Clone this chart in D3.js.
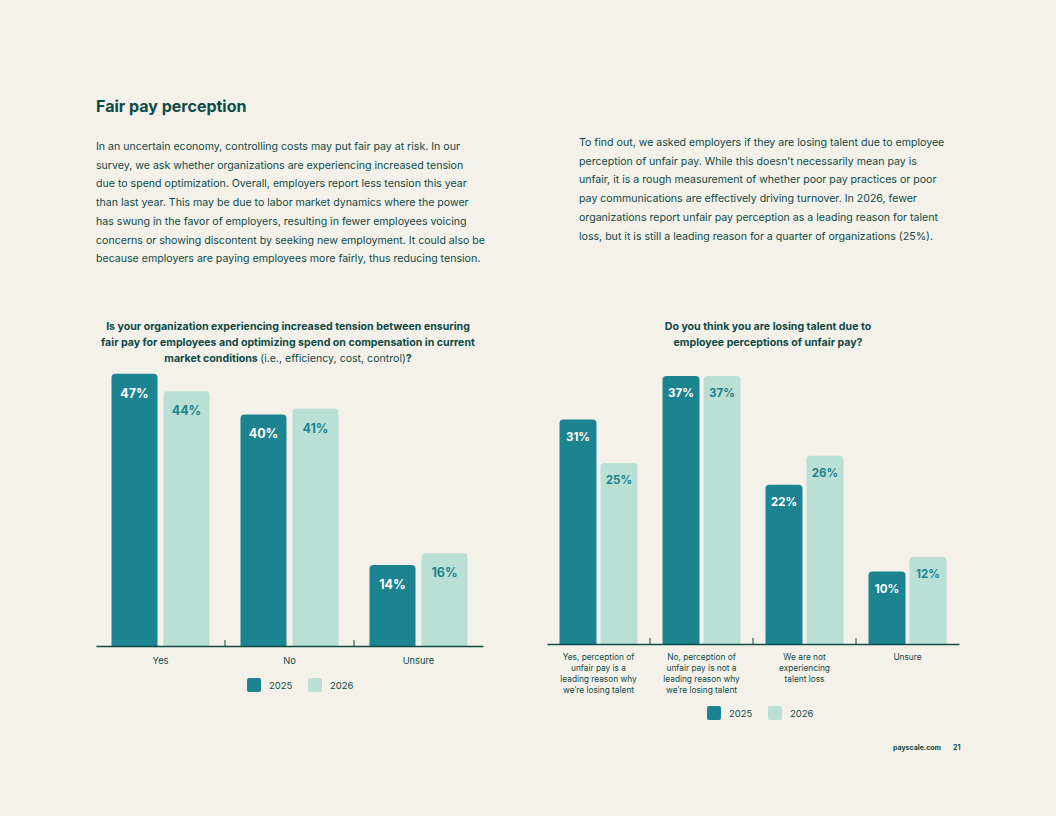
<!DOCTYPE html>
<html>
<head>
<meta charset="utf-8">
<script src="https://cdn.jsdelivr.net/npm/d3@7"></script>
<style>
  html, body { margin: 0; padding: 0; background: #f4f1ea; }
  svg { display: block; font-family: Inter, "Noto Sans", sans-serif; }
</style>
</head>
<body>
<svg id="page" width="1056" height="816"></svg>
<script>
// chart data
const years = ['2025', '2026'];

const tensionCategories = ['Yes', 'No', 'Unsure'];
const tension2025 = [47, 40, 14];
const tension2026 = [44, 41, 16];

const talentCategories = [
  ['Yes, perception of', 'unfair pay is a', 'leading reason why', 'we\u2019re losing talent'],
  ['No, perception of', 'unfair pay is not a', 'leading reason why', 'we\u2019re losing talent'],
  ['We are not', 'experiencing', 'talent loss'],
  ['Unsure']
];
const talent2025 = [31, 37, 22, 10];
const talent2026 = [25, 37, 26, 12];

const leftParagraph = [
  'In an uncertain economy, controlling costs may put fair pay at risk. In our',
  'survey, we ask whether organizations are experiencing increased tension',
  'due to spend optimization. Overall, employers report less tension this year',
  'than last year. This may be due to labor market dynamics where the power',
  'has swung in the favor of employers, resulting in fewer employees voicing',
  'concerns or showing discontent by seeking new employment. It could also be',
  'because employers are paying employees more fairly, thus reducing tension.'
];
const rightParagraph = [
  'To find out, we asked employers if they are losing talent due to employee',
  'perception of unfair pay. While this doesn\u2019t necessarily mean pay is',
  'unfair, it is a rough measurement of whether poor pay practices or poor',
  'pay communications are effectively driving turnover. In 2026, fewer',
  'organizations report unfair pay perception as a leading reason for talent',
  'loss, but it is still a leading reason for a quarter of organizations (25%).'
];

const DARK = '#1c8390';
const LIGHT = '#badfd5';
const INK = '#0f4a45';

const svg = d3.select('#page');

// HEADER
svg.append('text')
  .attr('x', 96).attr('y', 112)
  .attr('font-size', 16).attr('font-weight', 700)
  .attr('fill', INK)
  .text('Fair pay perception');

function paragraph(lines, x, y0, lh) {
  svg.append('g').selectAll('text')
    .data(lines)
    .enter()
    .append('text')
    .attr('x', x)
    .attr('y', (d, i) => y0 + i * lh)
    .attr('font-size', 10.6)
    .attr('fill', INK)
    .text(d => d);
}
paragraph(leftParagraph, 96, 150, 18.7);
paragraph(rightParagraph, 579, 146, 18.7);

// path for a bar with rounded top corners
function topRounded(x, y, w, h, r) {
  r = Math.min(r, h, w / 2);
  return `M${x},${y + h}V${y + r}Q${x},${y} ${x + r},${y}H${x + w - r}Q${x + w},${y} ${x + w},${y + r}V${y + h}Z`;
}

function barChart(opts) {
  const g = svg.append('g');
  const x = d3.scaleBand()
    .domain(d3.range(opts.categories.length))
    .range([opts.x0, opts.x1]);
  const y = d3.scaleLinear()
    .domain([0, 100])
    .range([opts.base, opts.base - opts.pxPerPct * 100]);

  // inner band for the two years inside a group
  const pairW = opts.barW * 2 + opts.gap;
  const xs = d3.scaleBand()
    .domain(years)
    .range([0, pairW])
    .paddingInner(opts.gap / (opts.barW + opts.gap))
    .paddingOuter(0);

  const rows = opts.categories.map((c, i) => ({
    i, values: [opts.s1[i], opts.s2[i]]
  }));

  const groups = g.selectAll('g.grp')
    .data(rows)
    .enter()
    .append('g')
    .attr('class', 'grp')
    .attr('transform', d => `translate(${x(d.i) + (x.bandwidth() - pairW) / 2},0)`);

  const bars = groups.selectAll('g.bar')
    .data(d => d.values.map((v, k) => ({ v, k })))
    .enter()
    .append('g')
    .attr('class', 'bar');

  bars.append('path')
    .attr('d', d => topRounded(xs(years[d.k]), y(d.v), xs.bandwidth(), y(0) - y(d.v), 4))
    .attr('fill', d => d.k === 0 ? DARK : LIGHT);

  bars.append('text')
    .attr('x', d => xs(years[d.k]) + xs.bandwidth() / 2)
    .attr('y', d => y(d.v) + opts.labelDy)
    .attr('text-anchor', 'middle')
    .attr('font-size', opts.labelSize)
    .attr('font-weight', 700)
    .attr('fill', d => d.k === 0 ? '#ffffff' : DARK)
    .text(d => d.v + '%');

  // axis
  const axis = g.append('g')
    .attr('transform', `translate(0,${opts.base})`)
    .call(d3.axisBottom(x).tickSize(0).tickFormat(''));
  axis.select('.domain').attr('stroke', INK).attr('stroke-width', 1.3);

  g.append('g').selectAll('line')
    .data(d3.range(1, opts.categories.length))
    .enter()
    .append('line')
    .attr('x1', d => x(d)).attr('x2', d => x(d))
    .attr('y1', opts.base).attr('y2', opts.base - 6)
    .attr('stroke', INK).attr('stroke-width', 1);

  // category labels
  const lab = g.append('g').selectAll('text')
    .data(rows)
    .enter()
    .append('text')
    .attr('text-anchor', 'middle')
    .attr('font-size', opts.catSize)
    .attr('fill', INK);
  lab.selectAll('tspan')
    .data(d => [].concat(opts.categories[d.i]).map(t => ({ t, i: d.i })))
    .enter()
    .append('tspan')
    .attr('x', d => x(d.i) + x.bandwidth() / 2)
    .attr('y', (d, k) => opts.base + opts.catDy + k * opts.catLh)
    .text(d => d.t);

  // title
  const t = g.append('text')
    .attr('text-anchor', 'middle')
    .attr('font-size', 10.6)
    .attr('font-weight', 700)
    .attr('fill', INK);
  opts.title.forEach((line, k) => {
    const ts = t.append('tspan')
      .attr('x', opts.titleX)
      .attr('y', opts.titleY + k * 16);
    line.forEach(part => {
      ts.append('tspan')
        .attr('font-weight', part.light ? 400 : 700)
        .text(part.text);
    });
  });

  // legend
  const leg = g.append('g')
    .attr('transform', `translate(${opts.legX},${opts.legY})`)
    .selectAll('g')
    .data(years)
    .enter()
    .append('g')
    .attr('transform', (d, i) => `translate(${i * 61},0)`);
  leg.append('rect')
    .attr('width', 14).attr('height', 14).attr('rx', 2)
    .attr('fill', (d, i) => i === 0 ? DARK : LIGHT);
  leg.append('text')
    .attr('x', 22).attr('y', 10.5)
    .attr('font-size', 9.5)
    .attr('fill', INK)
    .text(d => d);
}

barChart({
  categories: tensionCategories,
  s1: tension2025, s2: tension2026,
  x0: 96, x1: 483, base: 646, pxPerPct: 5.79,
  barW: 46, gap: 6,
  labelDy: 24, labelSize: 12.5,
  catSize: 9.3, catDy: 18, catLh: 11,
  title: [
    [{ text: 'Is your organization experiencing increased tension between ensuring' }],
    [{ text: 'fair pay for employees and optimizing spend on compensation in current' }],
    [{ text: 'market conditions ' }, { text: '(i.e., efficiency, cost, control)', light: true }, { text: '?' }]
  ],
  titleX: 288, titleY: 330,
  legX: 247, legY: 678
});

barChart({
  categories: talentCategories,
  s1: talent2025, s2: talent2026,
  x0: 547, x1: 959, base: 644, pxPerPct: 7.24,
  barW: 37, gap: 4,
  labelDy: 21, labelSize: 11.5,
  catSize: 8.3, catDy: 16, catLh: 11,
  title: [
    [{ text: 'Do you think you are losing talent due to' }],
    [{ text: 'employee perceptions of unfair pay?' }]
  ],
  titleX: 768, titleY: 330,
  legX: 707, legY: 706
});

// footer
svg.append('text')
  .attr('x', 941).attr('y', 750)
  .attr('text-anchor', 'end')
  .attr('font-size', 7).attr('font-weight', 700)
  .attr('fill', INK)
  .text('payscale.com');
svg.append('text')
  .attr('x', 953).attr('y', 750)
  .attr('font-size', 7).attr('font-weight', 700)
  .attr('fill', INK)
  .text('21');
</script>
</body>
</html>
